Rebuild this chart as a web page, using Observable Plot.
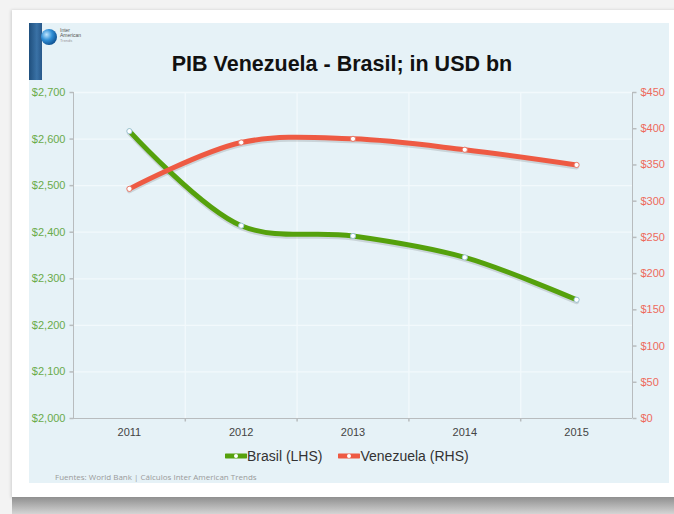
<!DOCTYPE html>
<html>
<head>
<meta charset="utf-8">
<script src="https://cdn.jsdelivr.net/npm/d3@7"></script>
<script src="https://cdn.jsdelivr.net/npm/@observablehq/plot@0.6"></script>
<style>
  html, body { margin: 0; padding: 0; }
  body { width: 674px; height: 514px; background: #f3f3f3; position: relative; overflow: hidden; font-family: "Liberation Sans", Arial, Helvetica, sans-serif; }
  #card { position: absolute; left: 12px; top: 10px; width: 680px; height: 488px; background: #fff; box-shadow: -1px 0 3px rgba(0,0,0,0.15); }
  #shadow { position: absolute; left: 12px; top: 497px; width: 680px; height: 17px; background: linear-gradient(#8f8f8f, #d4d4d4); }
  #panel { position: absolute; left: 29px; top: 23px; width: 640px; height: 460px; background: #e6f2f7; }
  #bar { position: absolute; left: 29px; top: 23px; width: 13px; height: 57px; background: linear-gradient(90deg, #1f4f7d, #3a72a6 60%, #27588a); }
  #logo { position: absolute; left: 40px; top: 25px; }
  #title { position: absolute; left: 342px; top: 52px; transform: translateX(-50%); font-size: 21.5px; font-weight: bold; color: #111; white-space: nowrap; }
  #chart { position: absolute; left: 0; top: 0; }
  #legend { position: absolute; left: 225px; top: 448px; font-size: 14px; color: #333; display: flex; align-items: center; white-space: nowrap; }
  #legend .item { display: flex; align-items: center; margin-right: 16px; }
  #footer { position: absolute; left: 55px; top: 471px; font-family: "Open Sans", sans-serif; font-size: 8px; color: #9a9a9a; white-space: nowrap; }
</style>
</head>
<body>
<div id="card"></div>
<div id="shadow"></div>
<div id="panel"></div>
<div id="bar"></div>
<svg id="logo" width="70" height="26">
  <defs>
    <radialGradient id="glb" cx="0.35" cy="0.35" r="0.7">
      <stop offset="0" stop-color="#bfe6ff"/>
      <stop offset="0.5" stop-color="#2f8fd6"/>
      <stop offset="1" stop-color="#0d4f8f"/>
    </radialGradient>
  </defs>
  <circle cx="9" cy="12" r="8" fill="url(#glb)"/>
  <text x="20" y="7" font-size="5" fill="#555">Inter</text>
  <text x="20" y="12" font-size="5" fill="#555">American</text>
  <text x="20" y="17" font-size="4" fill="#999">Trends</text>
</svg>
<div id="title">PIB Venezuela - Brasil; in USD bn</div>
<div id="chart"></div>
<div id="legend"></div>
<div id="footer">Fuentes: World Bank | Cálculos Inter American Trends</div>
<script>
// ---- data ----
const years = [2011, 2012, 2013, 2014, 2015];
const brasil = [2617, 2414, 2392, 2346, 2255];      // USD bn, left axis
const venezuela = [317, 381, 386, 371, 350];        // USD bn, right axis
const leftTicks = [2000, 2100, 2200, 2300, 2400, 2500, 2600, 2700];
const rightTicks = [0, 50, 100, 150, 200, 250, 300, 350, 400, 450];
const seriesNames = ["Brasil (LHS)", "Venezuela (RHS)"];
const seriesColors = ["#55a10c", "#ee5a43"];

// ---- dual-axis mapping (right scale onto left scale) ----
const L0 = leftTicks[0], L1 = leftTicks[leftTicks.length - 1];
const R0 = rightTicks[0], R1 = rightTicks[rightTicks.length - 1];
const toLeft = v => L0 + (v - R0) * (L1 - L0) / (R1 - R0);

const brData = years.map((year, i) => ({year, value: brasil[i]}));
const veData = years.map((year, i) => ({year, value: toLeft(venezuela[i])}));
const bounds = years.slice(0, -1).map(y => y + 0.5);
const xEnds = [years[0] - 0.5, years[years.length - 1] + 0.5];

const gridColor = "#f2f9fc";
const axisColor = "#b8bcbe";
const fmtL = d => "$" + d3.format(",")(d);
const fmtR = d => "$" + d;

// custom tick glyphs (drawn relative to the anchor point)
const tickLeft = {draw(c) { c.moveTo(-4, 0); c.lineTo(0, 0); }};
const tickRight = {draw(c) { c.moveTo(0, 0); c.lineTo(4, 0); }};
const tickDown = {draw(c) { c.moveTo(0, 0); c.lineTo(0, 3); }};

const chart = Plot.plot({
  width: 674,
  height: 450,
  marginLeft: 73,
  marginRight: 42,
  marginTop: 92,
  marginBottom: 32,
  style: {background: "transparent", fontFamily: "'Liberation Sans', Arial, Helvetica, sans-serif", overflow: "visible"},
  x: {domain: xEnds, axis: null},
  y: {domain: [L0, L1], axis: null},
  marks: [
    Plot.ruleY(leftTicks.slice(1), {stroke: gridColor, strokeWidth: 1.3}),
    Plot.ruleX(bounds, {stroke: gridColor, strokeWidth: 1.3}),
    Plot.ruleX(xEnds, {stroke: axisColor}),
    Plot.ruleY([L0], {stroke: axisColor}),
    // left axis
    Plot.dot(leftTicks, {x: () => xEnds[0], y: d => d, symbol: tickLeft, stroke: axisColor, fill: "none"}),
    Plot.text(leftTicks, {x: () => xEnds[0], y: d => d, text: fmtL, textAnchor: "end", dx: -8, fill: "#6aab4a", fontSize: 11}),
    // right axis
    Plot.dot(rightTicks, {x: () => xEnds[1], y: d => toLeft(d), symbol: tickRight, stroke: axisColor, fill: "none"}),
    Plot.text(rightTicks, {x: () => xEnds[1], y: d => toLeft(d), text: fmtR, textAnchor: "start", dx: 8, fill: "#ee6a5c", fontSize: 11}),
    // x axis
    Plot.dot(bounds, {x: d => d, y: () => L0, symbol: tickDown, stroke: axisColor, fill: "none"}),
    Plot.text(years, {x: d => d, y: () => L0, text: d => String(d), dy: 14, fill: "#444", fontSize: 11}),
    // shadows
    Plot.line(brData, {x: "year", y: "value", curve: "catmull-rom", stroke: "#000", strokeOpacity: 0.12, strokeWidth: 5, dy: 2}),
    Plot.line(veData, {x: "year", y: "value", curve: "catmull-rom", stroke: "#000", strokeOpacity: 0.12, strokeWidth: 5, dy: 2}),
    // lines
    Plot.line(brData, {x: "year", y: "value", curve: "catmull-rom", stroke: seriesColors[0], strokeWidth: 5, strokeLinecap: "round"}),
    Plot.line(veData, {x: "year", y: "value", curve: "catmull-rom", stroke: seriesColors[1], strokeWidth: 5, strokeLinecap: "round"}),
    Plot.dot(brData, {x: "year", y: "value", r: 2.6, fill: "white", stroke: "#9cc3d6", strokeWidth: 1}),
    Plot.dot(veData, {x: "year", y: "value", r: 2.6, fill: "white", stroke: "#e77a6a", strokeWidth: 1})
  ]
});
document.getElementById("chart").appendChild(chart);

// legend
const legend = document.getElementById("legend");
seriesNames.forEach((name, i) => {
  const item = document.createElement("div");
  item.className = "item";
  item.innerHTML = `<svg width="22" height="10"><line x1="1" y1="5" x2="21" y2="5" stroke="${seriesColors[i]}" stroke-width="5" stroke-linecap="round"/><circle cx="11" cy="5" r="2" fill="white"/></svg><span>${name}</span>`;
  legend.appendChild(item);
});
</script>
</body>
</html>
